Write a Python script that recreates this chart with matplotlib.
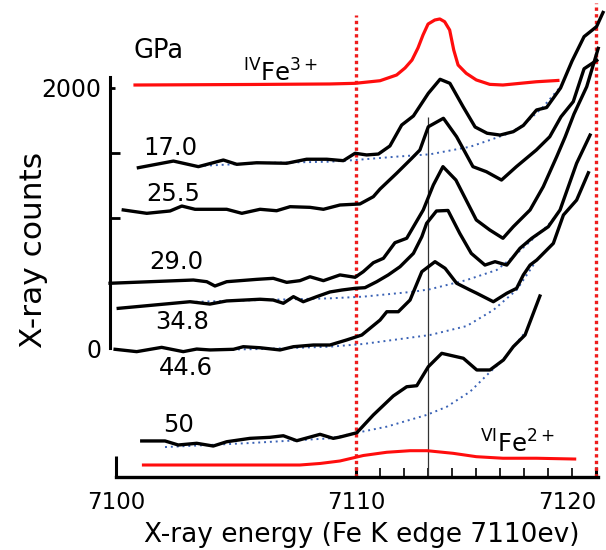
import numpy as np
import matplotlib
matplotlib.use('Agg')
from matplotlib import pyplot as plt

plt.rcParams['font.family'] = 'DejaVu Sans'
plt.rcParams['mathtext.default'] = 'regular'

# pressure spectra, energy (eV) and stacked counts
e_17 = [7100.92, 7102.38, 7103.42, 7104.46, 7105.02, 7105.85, 7107.1, 7107.93, 7108.77, 7109.46,
        7109.95, 7110.43, 7110.92, 7111.4, 7111.89, 7112.38, 7113.0, 7113.49, 7113.9, 7114.45,
        7114.95, 7115.45, 7115.99, 7116.54, 7116.96, 7117.51, 7117.93, 7118.51, 7118.99, 7119.49,
        7120.01, 7120.28]
c_17 = [1387, 1438, 1395, 1446, 1413, 1425, 1421, 1452, 1452, 1441,
        1498, 1485, 1492, 1554, 1715, 1785, 1959, 2067, 2036, 1856,
        1700, 1652, 1638, 1664, 1712, 1831, 1850, 2000, 2208, 2395,
        2472, 2581]

e_25 = [7100.29, 7101.27, 7102.24, 7102.73, 7103.28, 7104.6, 7105.23, 7105.99, 7106.68, 7107.24,
        7108.07, 7108.63, 7109.32, 7110.15, 7110.71, 7110.99, 7111.68, 7112.31, 7112.65, 7113.0,
        7113.63, 7114.18, 7114.86, 7115.42, 7116.05, 7116.67, 7117.5, 7118.06, 7118.53, 7119.04,
        7119.49, 7120.02]
c_25 = [1062, 1036, 1054, 1092, 1067, 1067, 1036, 1067, 1056, 1087,
        1082, 1067, 1100, 1108, 1164, 1223, 1344, 1459, 1523, 1702,
        1767, 1625, 1395, 1356, 1292, 1395, 1523, 1625, 1779, 1895,
        2148, 2213]

e_29 = [7099.74, 7103.21, 7103.77, 7104.11, 7104.6, 7105.85, 7106.54, 7107.1, 7107.65, 7108.07,
        7108.63, 7109.32, 7109.95, 7110.29, 7110.71, 7111.13, 7111.61, 7112.1, 7112.79, 7113.21,
        7113.61, 7114.15, 7115.0, 7115.56, 7116.11, 7116.54, 7117.24, 7117.79, 7118.35, 7118.7,
        7119.07, 7119.6, 7120.08]
c_29 = [498, 523, 510, 477, 510, 528, 536, 505, 518, 548,
        518, 562, 544, 587, 656, 690, 810, 844, 1062, 1254,
        1395, 1292, 985, 908, 844, 933, 1062, 1241, 1472, 1623,
        1800, 2010, 2305]

e_34 = [7100.08, 7103.07, 7103.9, 7104.6, 7105.99, 7106.54, 7106.96, 7107.38, 7107.79, 7108.35,
        7108.9, 7109.4, 7109.95, 7110.36, 7110.85, 7111.33, 7111.82, 7112.38, 7112.73, 7112.93,
        7113.34, 7113.82, 7114.31, 7114.79, 7115.36, 7115.78, 7116.27, 7116.82, 7117.31, 7118.0,
        7118.49, 7119.18, 7119.74]
c_34 = [305, 356, 338, 362, 375, 369, 344, 395, 356, 395,
        431, 446, 459, 464, 510, 562, 625, 728, 856, 959,
        1054, 1058, 882, 728, 638, 664, 638, 767, 844, 933,
        1062, 1421, 1638]

e_44 = [7099.95, 7100.85, 7101.89, 7102.79, 7103.35, 7103.9, 7104.88, 7105.29, 7105.99, 7106.82,
        7107.38, 7108.21, 7108.9, 7109.6, 7110.23, 7110.99, 7111.27, 7111.75, 7112.24, 7112.73,
        7113.28, 7113.7, 7114.18, 7114.74, 7115.02, 7115.71, 7116.27, 7116.68, 7116.96, 7117.24,
        7117.52, 7118.21, 7118.63, 7119.18, 7119.67]
c_44 = [-10, -28, 5, -28, -8, -15, -10, 10, 2, -15,
        10, 23, 23, 62, 100, 215, 279, 279, 369, 587,
        664, 613, 498, 446, 421, 356, 421, 459, 562, 638,
        677, 805, 1023, 1138, 1348]

e_50 = [7101.06, 7102.03, 7102.58, 7103.35, 7104.04, 7104.6, 7105.57, 7106.4, 7106.96, 7107.52,
        7108.49, 7109.04, 7109.32, 7110.02, 7110.71, 7111.54, 7112.1, 7112.52, 7113.0, 7113.56,
        7114.46, 7115.02, 7115.57, 7116.13, 7116.54, 7117.03, 7117.65]
c_50 = [-715, -715, -746, -733, -754, -721, -695, -687, -675, -713,
        -664, -695, -685, -652, -515, -369, -298, -290, -144, -41,
        -79, -169, -169, -92, 10, 100, 400]

# dotted background fits
bg_e_17 = [7103.42, 7105.99, 7108.9, 7109.95, 7111.68, 7113.07, 7114.74, 7115.57, 7116.4, 7116.96, 7117.79, 7118.63]
bg_c_17 = [1400, 1423, 1433, 1446, 1472, 1490, 1548, 1600, 1654, 1715, 1856, 2036]
bg_e_34 = [7103.07, 7105.99, 7108.9, 7110.29, 7112.38, 7113.07, 7114.6, 7115.85, 7116.54, 7118.0, 7118.49]
bg_c_34 = [354, 369, 382, 395, 433, 452, 523, 600, 702, 946, 1062]
bg_e_44 = [7103.61, 7105.99, 7108.9, 7110.29, 7113.07, 7114.6, 7115.71, 7116.68, 7117.52, 7118.21]
bg_c_44 = [-15, -8, 10, 31, 100, 169, 292, 446, 677, 805]
bg_e_50 = [7102.03, 7105.57, 7108.9, 7110.02, 7111.27, 7112.93, 7113.77, 7114.74, 7115.57, 7116.11, 7117.11]
bg_c_50 = [-762, -731, -695, -652, -605, -515, -452, -336, -185, -92, 138]

# reference spectra
fe3_e = [7100.78, 7105.57, 7108.9, 7109.95, 7110.99, 7111.68, 7112.03, 7112.32, 7112.57, 7112.78,
         7112.99, 7113.27, 7113.48, 7113.68, 7113.89, 7114.06, 7114.24, 7114.58, 7115.0, 7115.56,
         7116.11, 7117.5, 7118.4]
fe3_c = [2023, 2027, 2031, 2036, 2056, 2100, 2154, 2215, 2308, 2408,
         2492, 2523, 2531, 2510, 2446, 2292, 2177, 2113, 2062, 2028,
         2023, 2048, 2058]
fe2_e = [7101.13, 7104.5, 7107.65, 7108.5, 7109.32, 7110.29, 7111.27, 7112.24, 7112.95, 7114.03,
         7115.0, 7116.11, 7117.5, 7119.1]
fe2_c = [-900, -900, -900, -888, -869, -827, -802, -790, -790, -810,
         -836, -848, -848, -854]

spectra = [(e_17, c_17), (e_25, c_25), (e_29, c_29), (e_34, c_34), (e_44, c_44), (e_50, c_50)]
backgrounds = [(bg_e_17, bg_c_17), (bg_e_34, bg_c_34), (bg_e_44, bg_c_44), (bg_e_50, bg_c_50)]
pressures = ['17.0', '25.5', '29.0', '34.8', '44.6', '50']
label_x = [7102.24, 7102.38, 7102.48, 7102.76, 7102.9, 7102.61]
label_y = [1541, 1185, 658, 202, -154, -592]

edges = [7110, 7120]
peak_e = 7113

fig = plt.figure(figsize=(6.06, 5.5), dpi=100)
ax = fig.add_axes([0, 0, 1, 1])
ax.set_xlim(7095.154, 7120.404)
ax.set_ylim(-1553.8, 2676.9)

for s in ['top', 'right']:
    ax.spines[s].set_visible(False)
ax.spines['left'].set_position(('data', 7099.74))
ax.spines['left'].set_bounds(0, 2085)
ax.spines['left'].set_linewidth(2.2)
ax.spines['bottom'].set_position(('data', -995))
ax.spines['bottom'].set_bounds(7100, 7120.08)
ax.spines['bottom'].set_linewidth(2.4)

ax.set_xticks([7100, 7110, 7120])
ax.set_xticks(np.arange(7111, 7120), minor=True)
ax.tick_params(axis='x', which='major', direction='in', length=7, width=2.2,
               labelsize=16.5, pad=10)
ax.tick_params(axis='x', which='minor', direction='in', length=6.5, width=1.2)
xt = ax.xaxis.get_major_ticks()
xt[0].tick1line.set_markersize(15)
xt[2].label1.set_horizontalalignment('right')

ax.set_yticks([0, 1000, 1500, 2000])
ax.set_yticklabels(['0', '', '', '2000'])
ax.tick_params(axis='y', direction='in', length=7.5, width=2.0, labelsize=17, pad=6)
yt = ax.yaxis.get_major_ticks()
yt[0].tick1line.set_visible(False)
yt[3].tick1line.set_markersize(3.5)

# edge markers
ax.vlines(edges[0], -995, 2562, colors='#ee1c1c', linestyles=(0, (1, 1)), lw=2.4)
ax.vlines(edges[1], -995, 2654, colors='#ee1c1c', linestyles=(0, (1, 1)), lw=2.4)
ax.vlines(peak_e, -995, 1777, colors='#333333', lw=0.9)

for be, bc in backgrounds:
    ax.plot(be, bc, color='#3a62b5', lw=1.4, linestyle=(0, (1, 2)))

for (e, c), p, lx, ly in zip(spectra, pressures, label_x, label_y):
    ax.plot(e, c, color='black', lw=2.4)
    ax.text(lx, ly, p, fontsize=17.5, ha='center', va='center')

ax.plot(fe3_e, fe3_c, color='#ff0d0d', lw=2.3)
ax.plot(fe2_e, fe2_c, color='#ff0d0d', lw=2.2)

ax.text(7101.78, 2288, 'GPa', fontsize=18.5, ha='center', va='center')
ax.text(7105.29, 2046, r'${}^{IV}$Fe$^{3+}$', fontsize=17.5, ha='left', va='baseline')
ax.text(7115.15, -808, r'${}^{VI}$Fe$^{2+}$', fontsize=17.5, ha='left', va='baseline')

fig.text(34 / 606, 1 - 250 / 550, 'X-ray counts', rotation=90, fontsize=22.5,
         ha='center', va='center')
fig.text(361.5 / 606, 1 - 542 / 550, 'X-ray energy (Fe K edge 7110ev)', fontsize=19,
         ha='center', va='baseline')

fig.savefig('out.png', dpi=100)
